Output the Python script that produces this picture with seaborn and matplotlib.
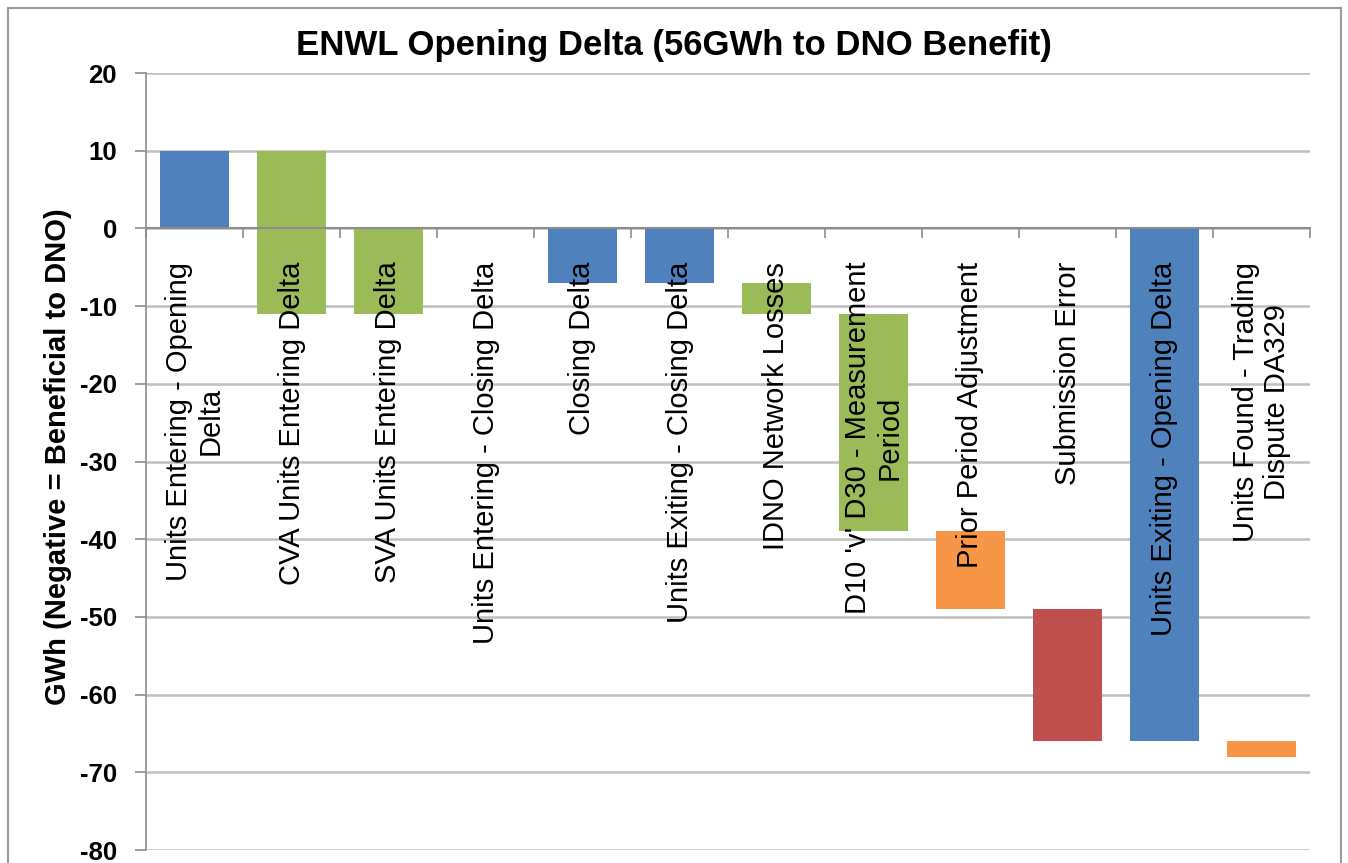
import numpy as np
import pandas as pd
import seaborn as sns
from matplotlib import pyplot as plt
from matplotlib.patches import Rectangle
from matplotlib.ticker import FixedLocator

categories = [
    "Units Entering - Opening\nDelta",
    "CVA Units Entering Delta",
    "SVA Units Entering Delta",
    "Units Entering - Closing Delta",
    "Closing Delta",
    "Units Exiting - Closing Delta",
    "IDNO Network Losses",
    "D10 'v' D30 - Measurement\nPeriod",
    "Prior Period Adjustment",
    "Submission Error",
    "Units Exiting - Opening Delta",
    "Units Found - Trading\nDispute DA329",
]
# each bar floats from bar_low to bar_high (GWh)
bar_low = [0, -11, -11, 0, -7, -7, -11, -39, -49, -66, -66, -68]
bar_high = [10, 10, 0, 0, 0, 0, -7, -11, -39, -49, 0, -66]
bar_colors = ["#4F81BD", "#9BBB59", "#9BBB59", "#4F81BD", "#4F81BD", "#4F81BD",
              "#9BBB59", "#9BBB59", "#F79646", "#C0504D", "#4F81BD", "#F79646"]
y_ticks = [20, 10, 0, -10, -20, -30, -40, -50, -60, -70, -80]

sns.set_style("white")
plt.rcParams["font.family"] = ["Liberation Sans", "DejaVu Sans"]
plt.rcParams["text.color"] = "black"
plt.rcParams["axes.labelcolor"] = "black"
plt.rcParams["xtick.labelcolor"] = "black"
plt.rcParams["ytick.labelcolor"] = "black"

df = pd.DataFrame({"category": categories, "low": bar_low, "high": bar_high})
df["height"] = df["high"] - df["low"]

fig = plt.figure(figsize=(13.48, 8.63), dpi=100)
ax = fig.add_axes([146 / 1348, 13 / 863, (1310 - 146) / 1348, (850 - 73) / 863])

sns.barplot(data=df, x="category", y="height", bottom=df["low"].to_numpy(),
            color=bar_colors[0], saturation=1, width=0.71, errorbar=None,
            linewidth=0, ax=ax)
for patch, c in zip(ax.patches, bar_colors):
    patch.set_facecolor(c)

ax.set_ylim(-80, 20)
ax.set_xlim(-0.5, len(categories) - 0.5)
ax.set_yticks(y_ticks)
ax.set_yticklabels([str(v) for v in y_ticks], fontsize=18.5, fontweight="bold")
ax.yaxis.grid(True, color="#BFBFBF", lw=1.8)
ax.set_axisbelow(True)
# category labels sit on top of the bars, the grid stays behind
ax.xaxis.set_zorder(5)

axis_grey = "#8C8C8C"
for side in ["top", "right"]:
    ax.spines[side].set_visible(False)
ax.spines["left"].set_color(axis_grey)
ax.spines["left"].set_linewidth(1.2)
ax.spines["bottom"].set_position(("data", 0))
ax.spines["bottom"].set_color(axis_grey)
ax.spines["bottom"].set_linewidth(1.5)

ax.tick_params(axis="y", direction="out", length=8, width=1.2, color=axis_grey,
               pad=13, left=True)
ax.tick_params(axis="x", which="major", length=0, pad=24, bottom=True)
ax.xaxis.set_minor_locator(FixedLocator(np.arange(-0.5, len(categories), 1.0)))
ax.tick_params(axis="x", which="minor", direction="out", length=7, width=1.2,
               color=axis_grey, bottom=True)
ax.set_xticks(range(len(categories)))
ax.set_xticklabels(categories, rotation=90, fontsize=21, linespacing=1.15)
ax.set_xlabel("")
ax.set_ylabel("GWh (Negative = Beneficial to DNO)", fontsize=21, fontweight="bold")
ax.yaxis.set_label_coords(-0.064, 0.506)

fig.text(0.5, 1 - 46 / 863, "ENWL Opening Delta (56GWh to DNO Benefit)",
         ha="center", va="center", fontsize=25, fontweight="bold")

fig.patches.append(Rectangle((8 / 1348, -0.02), (1341 - 8) / 1348, 1.02 - 8 / 863,
                             transform=fig.transFigure, fill=False,
                             edgecolor="#9A9A9A", lw=1.5))

plt.savefig("out.png", dpi=100)
